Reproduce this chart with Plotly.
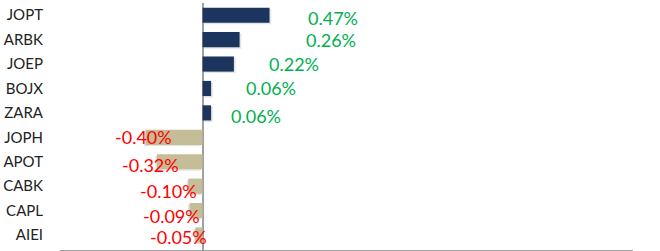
import plotly.graph_objects as go

categories = ["JOPT", "ARBK", "JOEP", "BOJX", "ZARA", "JOPH", "APOT", "CABK", "CAPL", "AIEI"]
values = [0.47, 0.26, 0.22, 0.06, 0.06, -0.40, -0.32, -0.10, -0.09, -0.05]
labels = ["0.47%", "0.26%", "0.22%", "0.06%", "0.06%", "-0.40%", "-0.32%", "-0.10%", "-0.09%", "-0.05%"]

# label placement offsets (style): horizontal offset from bar end (data units), vertical pixel shift
label_dx = [0.446, 0.638, 0.422, 0.421, 0.312, -0.014, -0.048, -0.142, -0.131, -0.122]
label_dy = [-3, 0, 0, 0, -3, 0, -3, -5, -5, -2]

NAVY = "#1C355E"
KHAKI = "#C4BD97"
colors = [NAVY if v >= 0 else KHAKI for v in values]

fig = go.Figure()
# soft shadow
fig.add_trace(go.Bar(
    y=categories, x=values,
    base=[0.012 if v >= 0 else -0.012 for v in values],
    orientation="h", width=0.62, offset=-0.37,
    marker=dict(color="rgba(0,0,0,0.10)", line=dict(width=0)),
    hoverinfo="skip", showlegend=False,
))
fig.add_trace(go.Bar(
    y=categories, x=values, orientation="h", width=0.62,
    marker=dict(color=colors, line=dict(width=0)),
    showlegend=False,
))

for c, v, t, dx, dy in zip(categories, values, labels, label_dx, label_dy):
    fig.add_annotation(
        x=v + dx, y=c, text=t, showarrow=False, xanchor="center", yanchor="middle",
        yshift=dy,
        font=dict(family="Lato", size=18, color="#00B050" if v >= 0 else "#FF0000"),
    )

fig.update_layout(
    width=660, height=251,
    margin=dict(l=60, r=27, t=3, b=1, autoexpand=False),
    paper_bgcolor="white", plot_bgcolor="white",
    barmode="overlay",
    xaxis=dict(
        range=[-1.0, 3.02], showgrid=False, showticklabels=False, automargin=False,
        zeroline=True, zerolinecolor="#A0A0A0", zerolinewidth=2,
        showline=True, linecolor="#A0A0A0", linewidth=2,
    ),
    yaxis=dict(
        categoryorder="array", categoryarray=categories[::-1],
        showgrid=False, showline=False, zeroline=False, automargin=False,
        ticklabelstandoff=16,
        tickfont=dict(family="Lato", size=15, color="#222222"),
    ),
)

fig.write_html(
    "out.html",
    config={"displayModeBar": False},
    post_script="document.body.style.margin='0';document.body.style.overflow='hidden';",
)
